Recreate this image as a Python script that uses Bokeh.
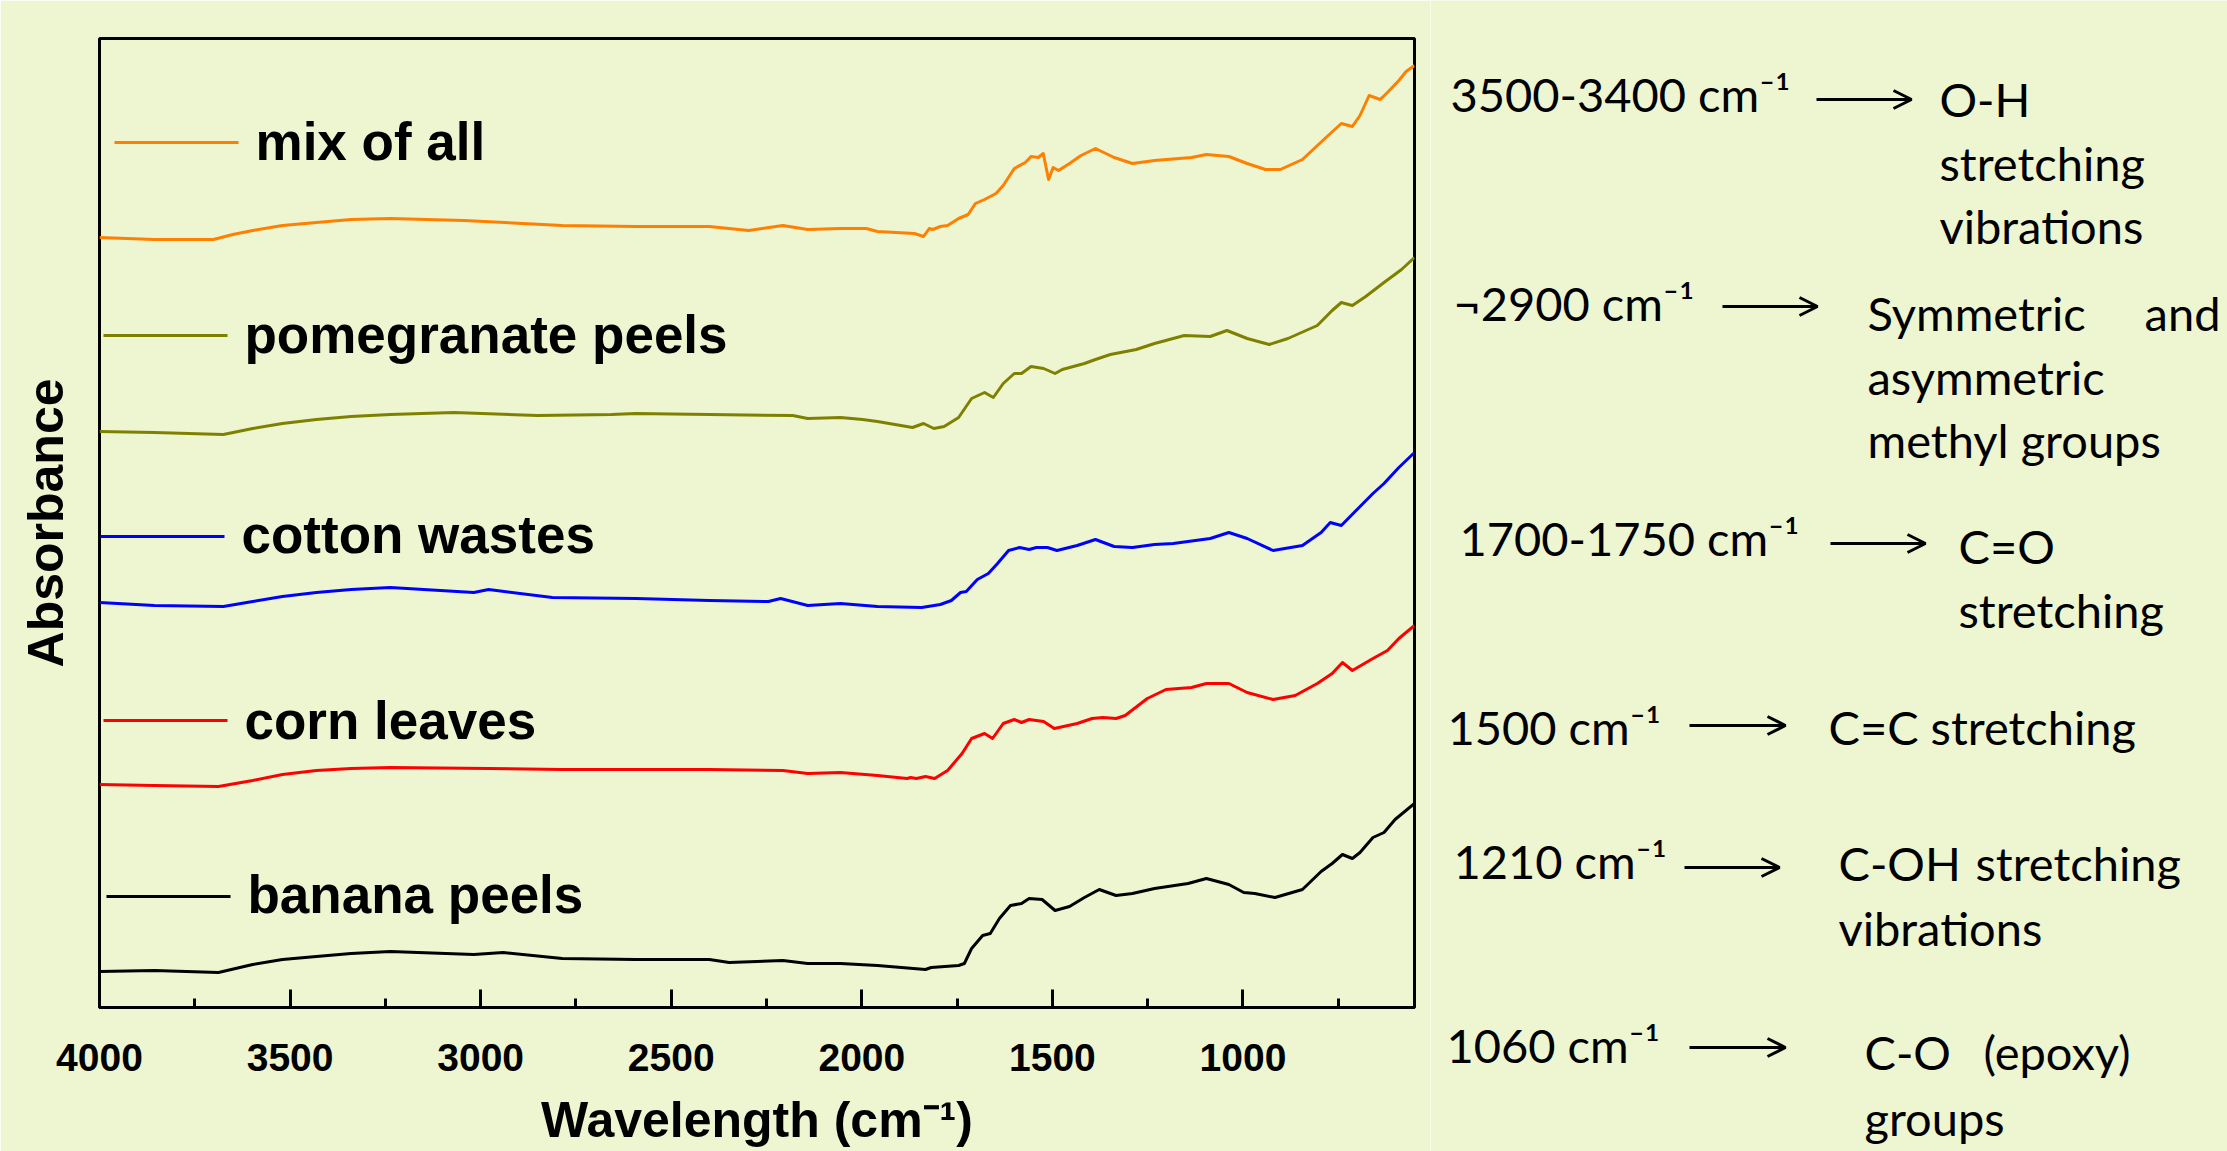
from bokeh.plotting import figure
from bokeh.models import Range1d, FixedTicker, Arrow, OpenHead
from bokeh.layouts import row
from bokeh.embed import file_html
from bokeh.resources import INLINE
from bokeh.core.properties import value

# ---------------- data ----------------
series_names = ["mix of all", "pomegranate peels", "cotton wastes", "corn leaves", "banana peels"]
series_colors = ["#FF7F00", "#808000", "#0000FF", "#FF0000", "#000000"]

mix_wn = [4000, 3856, 3701, 3650, 3598, 3520, 3431, 3340, 3237, 3044, 2786, 2593, 2400, 2297, 2207,
          2142, 2056, 1988, 1959, 1862, 1838, 1823, 1814, 1794, 1775, 1746, 1721, 1702, 1678, 1648,
          1629, 1600, 1571, 1556, 1537, 1524, 1510, 1498, 1484, 1455, 1425, 1387, 1338, 1290, 1232,
          1135, 1096, 1037, 989, 941, 902, 844, 785, 742, 713, 693, 669, 640, 621, 591, 572, 550]
mix_abs = [7.70, 7.68, 7.68, 7.73, 7.77, 7.82, 7.85, 7.88, 7.89, 7.87, 7.82, 7.81, 7.81, 7.77, 7.82,
           7.78, 7.79, 7.79, 7.76, 7.74, 7.71, 7.79, 7.78, 7.81, 7.82, 7.89, 7.93, 8.04, 8.08, 8.14,
           8.22, 8.39, 8.45, 8.51, 8.50, 8.54, 8.28, 8.40, 8.37, 8.44, 8.52, 8.59, 8.50, 8.44, 8.47,
           8.50, 8.53, 8.51, 8.44, 8.38, 8.38, 8.48, 8.69, 8.84, 8.81, 8.92, 9.12, 9.08, 9.15, 9.27,
           9.36, 9.42]

pom_wn = [4000, 3856, 3675, 3598, 3520, 3431, 3340, 3237, 3070, 2851, 2657, 2593, 2400, 2181, 2142,
          2056, 1998, 1959, 1867, 1838, 1811, 1784, 1746, 1712, 1678, 1655, 1629, 1600, 1581, 1556,
          1523, 1493, 1474, 1416, 1387, 1348, 1280, 1232, 1154, 1086, 1042, 989, 931, 882, 805,
          766, 742, 713, 678, 630, 584, 550]
pom_abs = [5.76, 5.75, 5.73, 5.79, 5.84, 5.88, 5.91, 5.93, 5.95, 5.92, 5.93, 5.94, 5.93, 5.92, 5.89,
           5.90, 5.88, 5.86, 5.80, 5.84, 5.79, 5.81, 5.90, 6.09, 6.15, 6.10, 6.24, 6.34, 6.34, 6.41,
           6.39, 6.34, 6.38, 6.44, 6.48, 6.53, 6.58, 6.64, 6.72, 6.71, 6.77, 6.69, 6.63, 6.69, 6.82,
           6.97, 7.05, 7.02, 7.11, 7.25, 7.38, 7.50]

cot_wn = [4000, 3856, 3675, 3598, 3520, 3431, 3340, 3237, 3018, 2979, 2812, 2593, 2400, 2245, 2213,
          2142, 2056, 1959, 1843, 1794, 1765, 1741, 1726, 1697, 1668, 1644, 1615, 1586, 1561, 1542,
          1513, 1488, 1435, 1387, 1338, 1290, 1232, 1183, 1086, 1037, 989, 921, 844, 795, 771,
          742, 698, 659, 630, 591, 550]
cot_abs = [4.05, 4.02, 4.01, 4.06, 4.11, 4.15, 4.18, 4.20, 4.15, 4.18, 4.10, 4.09, 4.07, 4.06, 4.09,
           4.02, 4.04, 4.01, 4.00, 4.03, 4.07, 4.15, 4.16, 4.28, 4.34, 4.44, 4.57, 4.60, 4.58, 4.60,
           4.60, 4.57, 4.62, 4.68, 4.61, 4.60, 4.63, 4.64, 4.69, 4.75, 4.69, 4.57, 4.62, 4.75, 4.85,
           4.82, 4.99, 5.14, 5.24, 5.40, 5.55]

corn_wn = [4000, 3856, 3688, 3598, 3520, 3431, 3340, 3237, 2979, 2786, 2657, 2400, 2207, 2142, 2056,
           1959, 1881, 1872, 1857, 1833, 1809, 1775, 1737, 1712, 1678, 1657, 1629, 1600, 1581, 1561,
           1523, 1495, 1435, 1396, 1367, 1333, 1309, 1251, 1202, 1135, 1096, 1037, 989, 921, 863,
           805, 766, 739, 713, 659, 621, 591, 550]
corn_abs = [2.23, 2.22, 2.21, 2.27, 2.33, 2.37, 2.39, 2.40, 2.39, 2.38, 2.38, 2.38, 2.37, 2.34, 2.35,
            2.32, 2.29, 2.30, 2.29, 2.31, 2.29, 2.37, 2.54, 2.69, 2.74, 2.69, 2.84, 2.88, 2.85, 2.88,
            2.86, 2.79, 2.84, 2.89, 2.90, 2.89, 2.92, 3.09, 3.18, 3.20, 3.24, 3.24, 3.15, 3.08, 3.12,
            3.24, 3.34, 3.45, 3.37, 3.49, 3.57, 3.69, 3.82]

ban_wn = [4000, 3856, 3688, 3598, 3520, 3431, 3340, 3237, 3018, 2941, 2786, 2593, 2400, 2348, 2207,
          2142, 2056, 1959, 1833, 1818, 1746, 1731, 1712, 1683, 1663, 1639, 1610, 1581, 1561, 1527,
          1493, 1455, 1416, 1377, 1333, 1290, 1232, 1144, 1096, 1037, 998, 969, 916, 844, 795,
          766, 739, 713, 693, 659, 630, 601, 550]
ban_abs = [0.36, 0.37, 0.35, 0.43, 0.48, 0.51, 0.54, 0.56, 0.53, 0.55, 0.49, 0.48, 0.48, 0.45, 0.47,
           0.44, 0.44, 0.42, 0.38, 0.40, 0.42, 0.44, 0.59, 0.72, 0.74, 0.89, 1.02, 1.04, 1.09, 1.08,
           0.97, 1.01, 1.10, 1.18, 1.12, 1.14, 1.19, 1.24, 1.29, 1.23, 1.15, 1.14, 1.10, 1.18, 1.36,
           1.44, 1.53, 1.49, 1.55, 1.70, 1.75, 1.88, 2.04]

x_major_ticks = [4000, 3500, 3000, 2500, 2000, 1500, 1000]
x_minor_ticks = [3750, 3250, 2750, 2250, 1750, 1250, 750]

band_positions = ["3500-3400 cm\u207b\u00b9", "\u00ac2900 cm\u207b\u00b9", "1700-1750 cm\u207b\u00b9",
                  "1500 cm\u207b\u00b9", "1210 cm\u207b\u00b9", "1060 cm\u207b\u00b9"]

# ---------------- styling / layout ----------------
BG = "#EDF5D1"
BOLD_FONT = "Liberation Sans"
NOTE_FONT = "Lato"

W, H = 2227, 1151
SPLIT = 1430                      # page x where the notes panel starts
X_START, X_END = 4000, 550
Y_START, Y_END = 0, 9.69
FL, FR, FT, FB = 99, 1414, 38, 1007   # frame edges in page pixels
BASELINE_FIX = 0.38                   # text baseline correction (fraction of font size)


def page_to_data(px, py):
    x = X_START - (px - FL) * (X_START - X_END) / (FR - FL)
    y = Y_START + (FB - py) * (Y_END - Y_START) / (FB - FT)
    return x, y


p = figure(width=SPLIT, height=H, x_range=Range1d(X_START, X_END), y_range=Range1d(Y_START, Y_END),
           output_backend="svg", toolbar_location=None,
           min_border_left=FL, min_border_right=SPLIT - FR, min_border_top=FT, min_border_bottom=H - FB,
           background_fill_color=BG, border_fill_color=BG,
           outline_line_color="black", outline_line_width=3)
p.grid.visible = False

xa = p.xaxis[0]
xa.ticker = FixedTicker(ticks=x_major_ticks, minor_ticks=x_minor_ticks)
xa.major_tick_in = 18
xa.major_tick_out = 0
xa.minor_tick_in = 9
xa.minor_tick_out = 0
xa.major_tick_line_width = 3
xa.minor_tick_line_width = 3
xa.axis_line_width = 3
xa.major_label_text_font = BOLD_FONT
xa.major_label_text_font_style = "bold"
xa.major_label_text_font_size = "39px"
xa.major_label_text_color = "black"
xa.major_label_standoff = 36
xa.axis_label = "Wavelength (cm\u207b\u00b9)"
xa.axis_label_text_font = BOLD_FONT
xa.axis_label_text_font_style = "bold"
xa.axis_label_text_font_size = "50px"
xa.axis_label_text_color = "black"
xa.axis_label_standoff = 18

ya = p.yaxis[0]
ya.ticker = FixedTicker(ticks=[])
ya.major_tick_in = 0
ya.major_tick_out = 0
ya.minor_tick_in = 0
ya.minor_tick_out = 0
ya.major_label_standoff = 0
ya.axis_line_color = None
ya.axis_label = "Absorbance"
ya.axis_label_text_font = BOLD_FONT
ya.axis_label_text_font_style = "bold"
ya.axis_label_text_font_size = "50px"
ya.axis_label_text_color = "black"
ya.axis_label_standoff = 26

all_wn = [mix_wn, pom_wn, cot_wn, corn_wn, ban_wn]
all_abs = [mix_abs, pom_abs, cot_abs, corn_abs, ban_abs]
for wn, ab, col in zip(all_wn, all_abs, series_colors):
    p.line(wn, ab, line_color=col, line_width=3, line_join="round")

# legend entries placed next to each curve (page pixels: swatch x0, x1, y; text x, baseline)
LEG_SIZE = 53
legend_layout = [(114, 238, 142, 255, 161), (103, 227, 335, 244, 354), (100, 224, 536, 241, 554),
                 (103, 227, 720, 244, 740), (106, 230, 896, 247, 914)]
for name, col, (sx0, sx1, sy, tx, ty) in zip(series_names, series_colors, legend_layout):
    a = page_to_data(sx0, sy)
    b = page_to_data(sx1, sy)
    p.line([a[0], b[0]], [a[1], b[1]], line_color=col, line_width=3)
    t = page_to_data(tx, ty - BASELINE_FIX * LEG_SIZE)
    p.text(x=[t[0]], y=[t[1]], text=[name], text_font=value(BOLD_FONT), text_font_style="bold",
           text_font_size="%dpx" % LEG_SIZE, text_color="black", text_align="left",
           text_baseline="alphabetic")

# ---------------- right-hand notes panel (page-pixel coordinates) ----------------
p2 = figure(width=W - SPLIT, height=H, x_range=Range1d(SPLIT, W), y_range=Range1d(H, 0),
            output_backend="svg", toolbar_location=None, min_border=0,
            x_axis_location=None, y_axis_location=None,
            background_fill_color=BG, border_fill_color=BG, outline_line_color=None)
p2.grid.visible = False
for fig in (p, p2):
    if "frame_align" in fig.properties():
        fig.frame_align = False

NOTE_SIZE = 47
band_layout = [(1450, 111), (1453, 320), (1459, 555), (1447, 744), (1453, 878), (1446, 1062)]
note_pieces = [
    (1939, 116, "O-H", "left"), (1939, 180, "stretching", "left"), (1939, 243, "vibrations", "left"),
    (1867, 330, "Symmetric", "left"), (2220, 330, "and", "right"),
    (1867, 394, "asymmetric", "left"), (1867, 457, "methyl groups", "left"),
    (1958, 563, "C=O", "left"), (1958, 627, "stretching", "left"),
    (1828, 744, "C=C stretching", "left"),
    (1838, 880, "C-OH", "left"), (1975, 880, "stretching", "left"), (1838, 945, "vibrations", "left"),
    (1864, 1069, "C-O", "left"), (1983, 1069, "(epoxy)", "left"), (1864, 1135, "groups", "left"),
]
arrow_layout = [(1816, 1911, 99), (1722, 1817, 306), (1830, 1925, 543),
                (1689, 1785, 725), (1684, 1779, 867), (1689, 1785, 1047)]

dy = BASELINE_FIX * NOTE_SIZE
p2.text(x=[b[0] for b in band_layout], y=[b[1] - dy for b in band_layout], text=band_positions,
        text_font=value(NOTE_FONT), text_font_size="%dpx" % NOTE_SIZE, text_color="black",
        text_align="left", text_baseline="alphabetic")
for x, y, txt, al in note_pieces:
    p2.text(x=[x], y=[y - dy], text=[txt], text_font=value(NOTE_FONT),
            text_font_size="%dpx" % NOTE_SIZE, text_color="black", text_align=al,
            text_baseline="alphabetic")
for x0, x1, y in arrow_layout:
    p2.add_layout(Arrow(x_start=x0, y_start=y, x_end=x1, y_end=y, line_color="black", line_width=3,
                        end=OpenHead(size=18, line_width=3, line_color="black")))

layout = row(p, p2)
html = file_html(layout, INLINE)
html = html.replace("<body>", '<body style="background-color:%s;margin:0;overflow:hidden;">' % BG, 1)
open("out.html", "w").write(html)
